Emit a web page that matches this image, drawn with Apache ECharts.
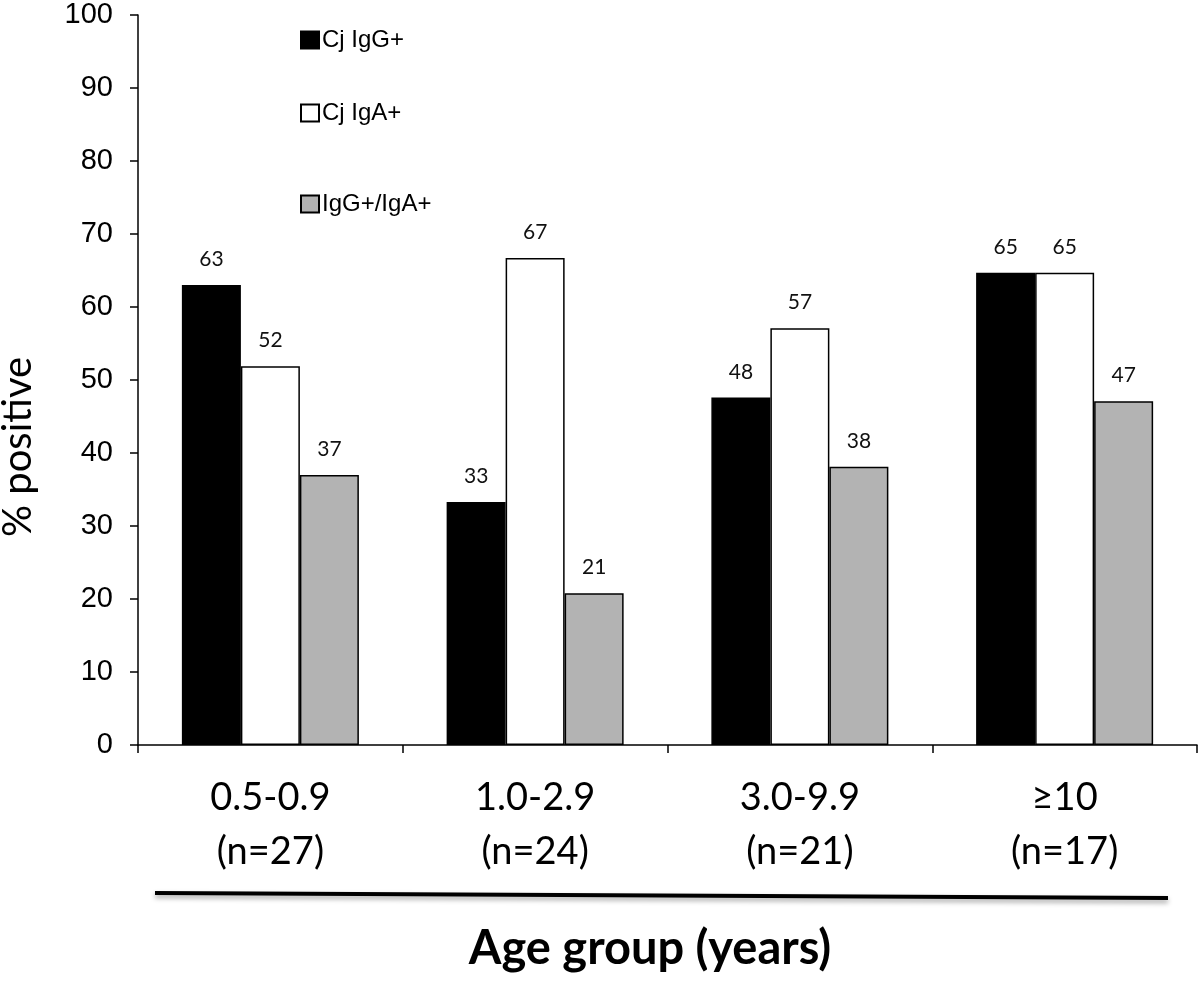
<!DOCTYPE html>
<html>
<head>
<meta charset="utf-8">
<style>
  html, body { margin: 0; padding: 0; background: #fff; }
  #main { width: 1200px; height: 981px; }
</style>
</head>
<body>
<div id="main"></div>
<script src="https://cdn.jsdelivr.net/npm/echarts@6/dist/echarts.min.js"></script>
<script type="text/javascript">
    // age groups (two-line labels)
    var categories = ['0.5-0.9\n(n=27)', '1.0-2.9\n(n=24)', '3.0-9.9\n(n=21)', '≥10\n(n=17)'];
    var seriesNames = ['Cj IgG+', 'Cj IgA+', 'IgG+/IgA+'];
    var igG = [63.0, 33.3, 47.6, 64.7];
    var igA = [51.9, 66.7, 57.1, 64.7];
    var both = [37.0, 20.8, 38.1, 47.1];
    var yTicks = [0, 10, 20, 30, 40, 50, 60, 70, 80, 90, 100];

    var myChart = echarts.init(document.getElementById('main'));

    var labelFont = 'Lato, "Open Sans", sans-serif';
    function barSeries(name, data, color) {
        return {
            name: name,
            type: 'bar',
            data: data,
            barWidth: 59,
            barGap: '0%',
            itemStyle: { color: color, borderColor: '#000', borderWidth: 1.5 },
            label: {
                show: true,
                position: 'top',
                distance: 15,
                color: '#111',
                fontSize: 21,
                fontFamily: labelFont,
                formatter: function (p) { return Math.round(p.value); }
            }
        };
    }

    // legend entries are placed one by one (uneven spacing in the original)
    var legendTops = [23, 96, 187];
    var legends = seriesNames.map(function (n, i) {
        return {
            orient: 'vertical',
            left: 295,
            top: legendTops[i],
            itemWidth: 18,
            itemHeight: 17,
            itemGap: 4,
            icon: 'rect',
            data: [n],
            textStyle: { fontSize: 24, color: '#000', padding: [0, 0, 0, -2] }
        };
    });

    myChart.setOption({
        animation: false,
        textStyle: { fontFamily: '"Liberation Sans", Arial, sans-serif' },
        grid: { left: 138, right: 3, top: 15, bottom: 236, containLabel: false },
        legend: legends,
        xAxis: {
            type: 'category',
            data: categories,
            axisLine: { lineStyle: { color: '#000', width: 1.5 } },
            axisTick: { show: true, length: 8, lineStyle: { color: '#000', width: 1.5 } },
            axisLabel: {
                color: '#000',
                fontSize: 38,
                fontFamily: labelFont,
                lineHeight: 54,
                margin: 26
            }
        },
        yAxis: {
            type: 'value',
            min: yTicks[0],
            max: yTicks[yTicks.length - 1],
            interval: 10,
            splitLine: { show: false },
            axisLine: { show: true, lineStyle: { color: '#000', width: 1.5 } },
            axisTick: { show: true, length: 8, lineStyle: { color: '#000', width: 1.5 } },
            axisLabel: { color: '#000', fontSize: 29, margin: 25 }
        },
        graphic: [
            {
                type: 'text',
                x: 18, y: 447,
                rotation: Math.PI / 2,
                style: {
                    text: '% positive',
                    font: '40px Lato, "Open Sans", sans-serif',
                    fill: '#000',
                    align: 'center',
                    verticalAlign: 'middle'
                }
            },
            {
                type: 'polyline',
                shape: { points: [[155, 893], [1168, 898]] },
                style: {
                    stroke: '#000',
                    lineWidth: 4,
                    shadowColor: 'rgba(0,0,0,0.35)',
                    shadowBlur: 5,
                    shadowOffsetY: 3
                }
            },
            {
                type: 'text',
                x: 650, y: 949,
                style: {
                    text: 'Age group (years)',
                    font: 'bold 47px Lato, "Open Sans", sans-serif',
                    fill: '#000',
                    align: 'center',
                    verticalAlign: 'middle'
                }
            }
        ],
        series: [
            barSeries(seriesNames[0], igG, '#000000'),
            barSeries(seriesNames[1], igA, '#ffffff'),
            barSeries(seriesNames[2], both, '#b3b3b3')
        ]
    });
</script>
</body>
</html>
